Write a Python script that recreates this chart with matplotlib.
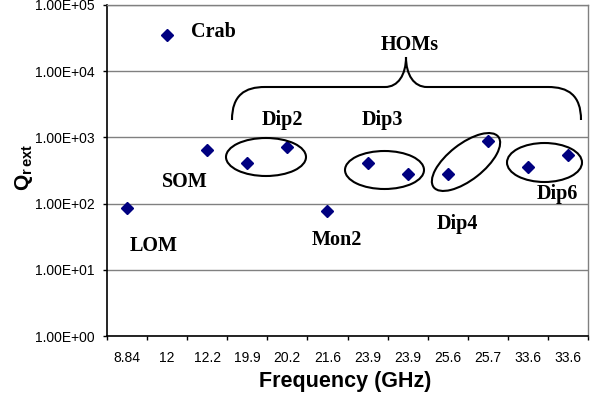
import matplotlib
matplotlib.use("Agg")
import matplotlib.pyplot as plt
import matplotlib.transforms as mtransforms
from matplotlib.patches import Ellipse, PathPatch
from matplotlib.path import Path
from matplotlib.ticker import FixedLocator, FuncFormatter, NullFormatter

plt.rcParams['mathtext.fontset'] = 'custom'
plt.rcParams['mathtext.bf'] = 'Liberation Sans:bold'
plt.rcParams['mathtext.rm'] = 'Liberation Sans'

# частоты мод (подписи категорий) и внешняя добротность
freqs = ['8.84', '12', '12.2', '19.9', '20.2', '21.6',
         '23.9', '23.9', '25.6', '25.7', '33.6', '33.6']
q_ext = [85, 35000, 640, 410, 720, 78, 410, 280, 280, 880, 360, 540]

# подписи мод: текст, положение в пикселях картинки (x, y сверху)
mode_labels = [
    ('Crab', 191, 32, 'left'),
    ('SOM', 185, 182, 'center'),
    ('LOM', 154, 246, 'center'),
    ('Mon2', 337, 240, 'center'),
    ('Dip2', 282, 120, 'center'),
    ('Dip3', 382, 120, 'center'),
    ('Dip4', 457, 224, 'center'),
    ('Dip6', 578, 194, 'right'),
    ('HOMs', 410, 45, 'center'),
]

# овалы вокруг пар диполей: центр, ширина, высота, угол (пиксели)
groups = [
    (266, 157, 80, 38, 0),
    (384.5, 170, 79, 38, 0),
    (466, 162, 82, 36, -38),
    (544.5, 162.5, 75, 39, 0),
]

W, H = 595, 401
fig = plt.figure(figsize=(W / 100, H / 100), dpi=100)
ax = fig.add_axes([107 / W, 1 - 336 / H, 481 / W, 331 / H])

# пиксели картинки (y вниз) -> экран
pix = mtransforms.Affine2D().scale(1 / 100, -1 / 100).translate(0, H / 100) + fig.dpi_scale_trans

x = list(range(len(freqs)))
ax.plot(x, q_ext, linestyle='none', marker='D', ms=6.5,
        color='#000080', markeredgecolor='#000080', zorder=3)

ax.set_yscale('log')
ax.set_ylim(1, 1e5)
ax.set_xlim(-0.5, len(freqs) - 0.5)

ax.yaxis.set_major_locator(FixedLocator([1, 10, 100, 1e3, 1e4, 1e5]))
ax.yaxis.set_minor_locator(FixedLocator([]))
ax.yaxis.set_major_formatter(FuncFormatter(lambda v, p: f"{v:.2E}"))
ax.grid(axis='y', color='#808080', linewidth=1.0)
ax.set_axisbelow(True)

ax.xaxis.set_major_locator(FixedLocator([i - 0.5 for i in range(len(freqs) + 1)]))
ax.xaxis.set_major_formatter(NullFormatter())
ax.xaxis.set_minor_locator(FixedLocator(x))
ax.set_xticklabels(freqs, minor=True)
ax.tick_params(axis='x', which='major', direction='out', length=3, width=1, color='black')
ax.tick_params(axis='x', which='minor', length=0, pad=11)
ax.tick_params(axis='y', which='major', direction='out', length=3, width=1, pad=6)
for lab in ax.get_xticklabels(minor=True) + ax.get_yticklabels():
    lab.set_fontfamily('Liberation Sans')
    lab.set_fontsize(10)

for s in ['top', 'right']:
    ax.spines[s].set_color('#808080')
    ax.spines[s].set_linewidth(1.0)
for s in ['left', 'bottom']:
    ax.spines[s].set_color('black')
    ax.spines[s].set_linewidth(1.2)

fig.text(345 / W, 1 - 382 / H, 'Frequency (GHz)', ha='center', va='center',
         fontsize=15.5, fontweight='bold', family='Liberation Sans')
fig.text(24 / W, 1 - 167 / H, r'$\mathbf{Q}_{\mathbf{r}\,\mathbf{ext}}$',
         ha='center', va='center', rotation=90, fontsize=15)

for txt, px, py, ha in mode_labels:
    fig.text(px / W, 1 - py / H, txt, ha=ha, va='center', fontsize=14.5,
             fontweight='bold', family='Liberation Serif')

for cx, cy, w, h, ang in groups:
    e = Ellipse((cx, cy), w, h, angle=ang, transform=pix, fill=False,
                edgecolor='black', linewidth=1.5, clip_on=False)
    fig.add_artist(e)

# фигурная скобка над HOMs
verts = [(232, 120), (232, 95), (245, 87), (265, 87),
         (385, 87),
         (398, 87), (406, 75), (406, 57),
         (406, 75), (414, 87), (427, 87),
         (548, 87),
         (568, 87), (581, 95), (581, 120)]
codes = [Path.MOVETO, Path.CURVE4, Path.CURVE4, Path.CURVE4,
         Path.LINETO,
         Path.CURVE4, Path.CURVE4, Path.CURVE4,
         Path.CURVE4, Path.CURVE4, Path.CURVE4,
         Path.LINETO,
         Path.CURVE4, Path.CURVE4, Path.CURVE4]
fig.add_artist(PathPatch(Path(verts, codes), transform=pix, fill=False,
                         edgecolor='black', linewidth=1.5))

fig.savefig('out.png', dpi=100)
